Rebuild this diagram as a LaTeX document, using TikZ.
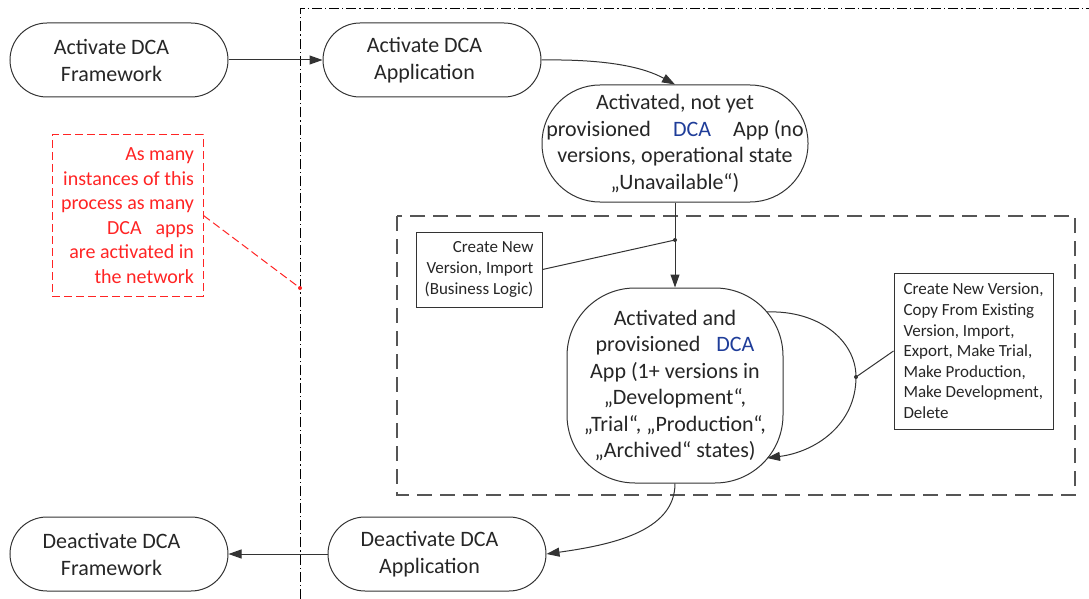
\documentclass[tikz,border=0pt]{standalone}
\usepackage{fontspec}
\setmainfont{Carlito}
\usetikzlibrary{arrows.meta,calc}
\definecolor{txt}{HTML}{262626}
\definecolor{ln}{HTML}{333333}
\definecolor{dashgray}{HTML}{555555}
\definecolor{dcablue}{HTML}{1F3D99}
\definecolor{redc}{HTML}{FF2424}
\newcommand{\shl}{\hspace*{15pt}}
\begin{document}
\begin{tikzpicture}[x=1pt,y=-1pt,
  term/.style={draw=ln, line width=1pt, rounded corners=37pt, minimum width=218pt, minimum height=74pt, inner sep=0pt, align=center, text=txt, font=\fontsize{22}{27}\selectfont},
  statebox/.style={draw=ln, line width=1pt, inner sep=0pt, align=center, text=txt, font=\fontsize{22}{26.5}\selectfont},
  notebox/.style={draw=ln, line width=1pt, inner sep=0pt, text=txt, font=\fontsize{17}{20.6}\selectfont},
  conn/.style={draw=ln, line width=1pt},
  arr/.style={conn, -{Triangle[length=13pt,width=9pt]}},
  dotc/.style={circle, fill=ln, inner sep=0pt, minimum size=4pt}
]
\useasboundingbox (0,0) rectangle (1089,599);

% frames
\draw[black, line width=1pt, dash pattern=on 10pt off 3pt on 1.2pt off 3pt] (300,599) -- (300,9) -- (1089,9);
\draw[dashgray, line width=1.3pt, dash pattern=on 15pt off 8pt] (397,216) rectangle (1075,495);

% terminators
\node[term] (af) at (119,60) {Activate DCA\shl\\Framework\shl};
\node[term] (aa) at (432,60) {Activate DCA\shl\\Application\shl};
\node[term] (dd) at (437,554) {Deactivate DCA\shl\\Application\shl};
\node[term] (df) at (119,554) {Deactivate DCA\shl\\Framework\shl};

% states
\node[statebox, rounded corners=58pt, minimum width=266pt, minimum height=117pt] (s1) at (675,143.5)
  {Activated, not yet\\provisioned\hspace*{22pt}\textcolor{dcablue}{DCA}\hspace*{22pt}App (no\\versions, operational state\\„Unavailable“)};
\node[statebox, rounded corners=68pt, minimum width=216pt, minimum height=195pt] (s2) at (675,385.5)
  {Activated and\\provisioned\hspace*{16pt}\textcolor{dcablue}{DCA}\\App (1+ versions in\\„Development“,\\„Trial“, „Production“,\\„Archived“ states)};

% notes
\node[notebox, align=right, minimum width=126pt, minimum height=75pt] (n1) at (479,269.5)
  {Create New\\Version, Import\\(Business Logic)};
\node[notebox, align=left, minimum width=159pt, minimum height=156pt] (n2) at (973.5,351)
  {Create New Version,\\Copy From Existing\\Version, Import,\\Export, Make Trial,\\Make Production,\\Make Development,\\Delete};
\node[draw=redc, line width=1pt, dash pattern=on 8pt off 4pt, text=redc, align=right, inner sep=0pt,
  minimum width=151pt, minimum height=161pt, font=\fontsize{20}{24.5}\selectfont] (rn) at (127.5,215.5)
  {As many\\instances of this\\process as many\\DCA\hspace*{14pt}apps\\are activated in\\the network};

% coordinates
\coordinate (d1) at (675,240);
\coordinate (ls) at (767,312);
\coordinate (ld) at (856,377);
\coordinate (le) at (767,458);
\coordinate (rd) at (300,288);

% connectors
\draw[arr] (af.east) -- (aa.west);
\draw[arr] (aa.east) .. controls (610,59) and (645,68) .. (s1.north);
\draw[arr] (s1.south) -- (s2.north);
\draw[conn] (d1) -- (n1.east);
\node[dotc] at (d1) {};
\draw[arr] (ls) .. controls (818,310) and (856,340) .. (ld) .. controls (856,425) and (815,452) .. (le);
\draw[conn] (ld) -- (n2.west);
\node[dotc] at (ld) {};
\draw[arr] (s2.south) .. controls (675,532) and (610,545) .. (dd.east);
\draw[arr] (dd.west) -- (df.east);
\draw[redc, line width=1pt, dash pattern=on 8pt off 4pt] (rn.east) -- (rd);
\node[circle, fill=redc, inner sep=0pt, minimum size=4pt] at (rd) {};
\end{tikzpicture}
\end{document}
